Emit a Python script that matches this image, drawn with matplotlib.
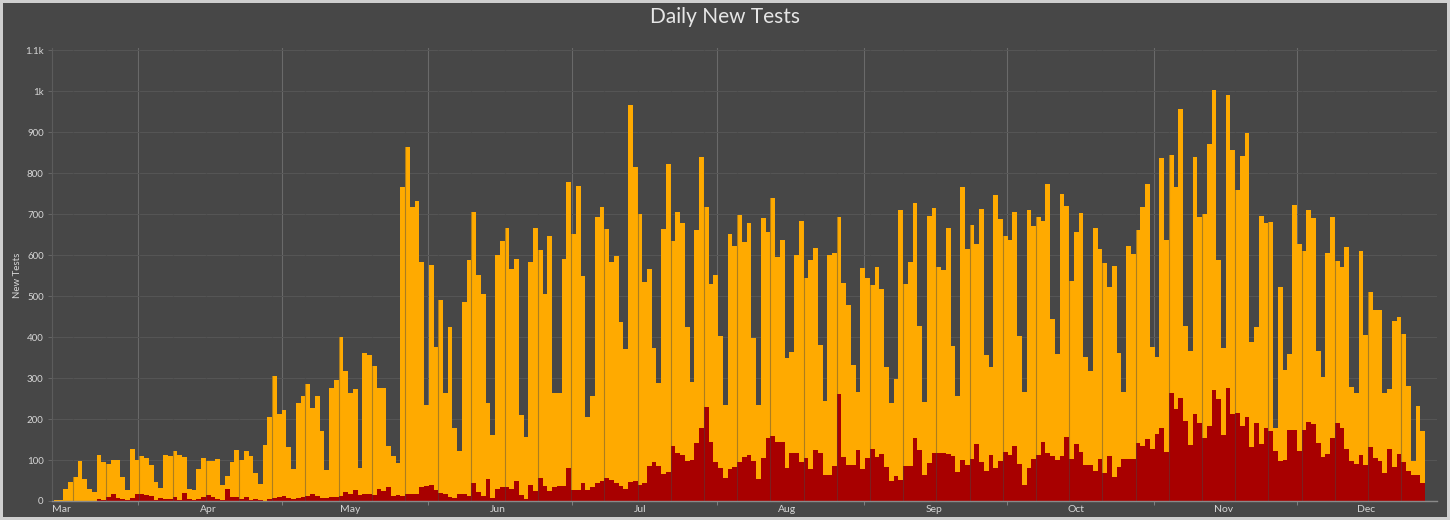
import numpy as np
import matplotlib
matplotlib.use("Agg")
import matplotlib.pyplot as plt

# ---- data (daily values, first bar = Feb 29) ----
total_tests = [
    2, 3, 29, 47, 58, 98, 54, 30, 23, 113, 94, 91, 100, 99, 58, 28, 127, 101, 109, 106, 87, 46, 31, 111,
    109, 123, 113, 107, 30, 26, 79, 104, 98, 97, 102, 38, 60, 94, 125, 101, 121, 109, 68, 41, 136, 205, 304, 213,
    221, 131, 79, 239, 257, 286, 227, 257, 170, 75, 275, 294, 399, 316, 264, 274, 80, 360, 357, 329, 275, 275, 134, 110,
    93, 766, 864, 718, 731, 582, 233, 576, 375, 490, 263, 424, 178, 122, 485, 588, 706, 551, 505, 240, 162, 601, 633, 667,
    567, 590, 209, 156, 584, 665, 612, 505, 647, 263, 263, 590, 777, 651, 769, 550, 205, 257, 692, 718, 663, 584, 597, 437, 371,
    966, 815, 700, 533, 567, 373, 287, 663, 821, 633, 704, 677, 424, 290, 661, 838, 718, 529, 552, 403, 233, 651, 623, 697,
    632, 677, 397, 235, 690, 657, 738, 594, 636, 349, 363, 600, 682, 544, 588, 618, 381, 244, 601, 604, 693, 532, 479, 332,
    265, 568, 544, 528, 572, 517, 328, 239, 298, 709, 529, 584, 726, 426, 241, 696, 714, 571, 564, 666, 377, 257, 767, 614,
    673, 628, 712, 355, 326, 746, 688, 647, 636, 706, 403, 267, 709, 670, 692, 683, 774, 444, 359, 750, 720, 537, 655, 702,
    351, 318, 667, 614, 580, 523, 574, 360, 267, 623, 602, 662, 716, 773, 375, 352, 836, 637, 844, 766, 957, 428, 365, 840,
    693, 701, 870, 1002, 588, 373, 990, 856, 759, 841, 898, 387, 425, 696, 678, 680, 178, 521, 320, 359, 722, 628, 610, 709, 690,
    367, 302, 606, 692, 586, 572, 620, 278, 264, 609, 405, 509, 466, 466, 264, 274, 440, 450, 407, 280, 97, 231, 170,
]
positive_tests = [
    0, 0, 0, 0, 0, 0, 0, 0, 0, 5, 2, 10, 17, 8, 5, 2, 8, 18, 17, 14, 12, 3, 7, 5,
    6, 10, 3, 19, 4, 3, 6, 10, 14, 9, 5, 2, 30, 10, 10, 6, 10, 3, 5, 2, 1, 6, 8, 9,
    12, 8, 5, 7, 9, 12, 18, 12, 8, 8, 9, 10, 11, 22, 18, 28, 14, 16, 18, 14, 30, 24, 34, 12,
    14, 12, 17, 17, 17, 34, 37, 39, 28, 20, 16, 9, 8, 18, 16, 13, 44, 23, 12, 53, 8, 29, 35, 33,
    30, 50, 15, 5, 40, 25, 56, 37, 25, 33, 36, 37, 80, 27, 27, 43, 26, 35, 43, 50, 55, 52, 43, 36, 30,
    47, 50, 40, 43, 85, 95, 85, 65, 71, 134, 118, 113, 97, 99, 142, 178, 229, 145, 95, 80, 57, 79, 83, 95,
    107, 113, 97, 54, 105, 153, 158, 145, 144, 81, 118, 116, 95, 104, 79, 124, 117, 63, 63, 85, 261, 107, 88, 88,
    125, 78, 105, 126, 107, 115, 82, 50, 62, 52, 85, 85, 154, 125, 64, 93, 117, 117, 117, 115, 110, 70, 100, 88,
    103, 140, 94, 73, 112, 80, 97, 120, 112, 135, 90, 38, 80, 102, 112, 143, 118, 110, 100, 110, 155, 102, 140, 120,
    87, 87, 72, 102, 69, 110, 58, 83, 102, 102, 102, 142, 133, 152, 127, 163, 178, 120, 263, 225, 252, 195, 137, 212,
    190, 153, 184, 271, 249, 162, 275, 213, 215, 183, 206, 131, 190, 138, 179, 170, 122, 97, 101, 174, 174, 122, 172, 192, 188,
    141, 107, 115, 154, 190, 178, 127, 97, 91, 113, 87, 131, 105, 97, 69, 126, 83, 115, 95, 72, 64, 64, 44,
]
month_labels = ["Mar", "Apr", "May", "Jun", "Jul", "Aug", "Sep", "Oct", "Nov", "Dec"]
month_start_index = [1, 32, 62, 93, 123, 154, 185, 215, 246, 276]
grid_day_index = [17.2, 47.6, 78.3, 108.7, 139.3, 170.2, 200.4, 231.4, 261.5]
y_ticks = [0, 100, 200, 300, 400, 500, 600, 700, 800, 900, 1000, 1100]
y_tick_labels = ["0", "100", "200", "300", "400", "500", "600", "700", "800", "900", "1k", "1.1k"]

BG = "#474747"
ORANGE = "#FFAA00"
RED = "#A80000"
TXT = "#d6d6d6"

n = len(total_tests)
edges = np.arange(n + 1) - 0.5

fig = plt.figure(figsize=(14.5, 5.2), dpi=100)
fig.patch.set_facecolor(BG)
fig.patch.set_edgecolor("#cfcfcf")
fig.patch.set_linewidth(3)
ax = fig.add_axes([52 / 1450, 19 / 520, (1437 - 52) / 1450, (501 - 48) / 520])
ax.set_facecolor(BG)

ax.stairs(total_tests, edges, fill=True, color=ORANGE, zorder=2, linewidth=0)
ax.stairs(positive_tests, edges, fill=True, color=RED, zorder=2.5, linewidth=0)

# subtle weekly separators visible only over the bars
for k in np.arange(3.5, n, 7):
    ax.axvline(k, color=BG, alpha=0.45, lw=0.8, zorder=3)

ax.set_xlim(-0.5 - 2 / 4.744, n - 0.5 + 12 / 4.744)
ax.set_ylim(0, 1105)

ax.set_yticks(y_ticks)
ax.set_yticklabels(y_tick_labels)
ax.tick_params(axis="y", colors="#6a6a6a", labelcolor=TXT, labelsize=7, length=3, width=0.6, pad=3)
ax.yaxis.grid(True, color="#565656", lw=0.7, zorder=0)

ax.set_xticks(grid_day_index)
ax.set_xticklabels([""] * len(grid_day_index))
ax.set_xticks(month_start_index, minor=True)
ax.set_xticklabels(month_labels, minor=True)
ax.tick_params(axis="x", which="major", colors="#8a8a8a", length=3, width=0.6)
ax.tick_params(axis="x", which="minor", length=0, labelcolor=TXT, labelsize=7.5, pad=3)
ax.xaxis.grid(True, which="major", color="#6a6a6a", lw=0.8, zorder=0)
ax.set_axisbelow(True)

for s in ["top", "right"]:
    ax.spines[s].set_visible(False)
ax.spines["left"].set_color("#5c5c5c")
ax.spines["left"].set_linewidth(0.8)
ax.spines["bottom"].set_color("#8a8a8a")
ax.spines["bottom"].set_linewidth(1.0)
ax.spines["bottom"].set_zorder(4)

fig.text(17 / 1450, 1 - 275 / 520, "New Tests", rotation=90, ha="center", va="center",
         color=TXT, fontsize=7, family=["Lato", "DejaVu Sans"])
fig.text(0.5, 1 - 17 / 520, "Daily New Tests", ha="center", va="center",
         color="#e6e6e6", fontsize=15, family=["Lato", "DejaVu Sans"])

for lab in ax.get_xticklabels(minor=True) + ax.get_yticklabels():
    lab.set_family(["Lato", "DejaVu Sans"])

fig.savefig("out.png", dpi=100, facecolor=fig.get_facecolor(), edgecolor=fig.get_edgecolor())
